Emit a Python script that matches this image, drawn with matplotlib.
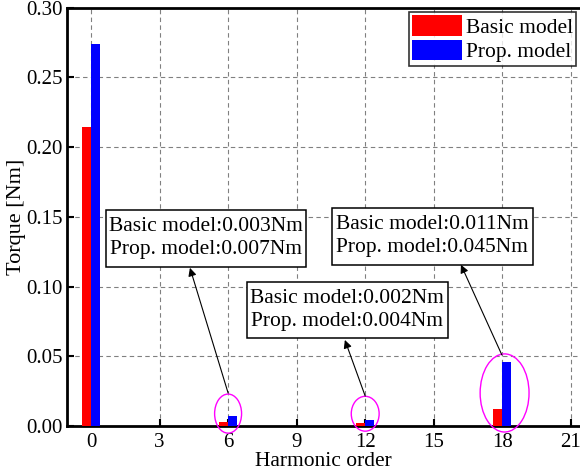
import matplotlib
matplotlib.use("Agg")
import matplotlib.pyplot as plt
from matplotlib.patches import Ellipse, Rectangle

plt.rcParams['font.family'] = ['Liberation Serif', 'DejaVu Serif']

# harmonic orders and torque amplitudes [Nm]
orders = [0, 6, 12, 18]
basic = [0.2145, 0.003, 0.002, 0.012]
prop = [0.274, 0.007, 0.004, 0.046]

notes = [
    "Basic model:0.003Nm\nProp. model:0.007Nm",
    "Basic model:0.002Nm\nProp. model:0.004Nm",
    "Basic model:0.011Nm\nProp. model:0.045Nm",
]

fig = plt.figure(figsize=(5.8, 4.71), dpi=100)
ax = fig.add_axes([0.1155, 0.0955, 0.8845, 0.8885])

w = 0.4
ax.bar([o - w / 2 for o in orders], basic, width=w, color='red', label='Basic model', zorder=3)
ax.bar([o + w / 2 for o in orders], prop, width=w, color='blue', label='Prop. model', zorder=3)

ax.set_xlim(-1.05, 21.4)
ax.set_ylim(0, 0.30)
ax.set_xticks(range(0, 22, 3))
ax.set_yticks([0, 0.05, 0.10, 0.15, 0.20, 0.25, 0.30])
ax.set_yticklabels(['0.00', '0.05', '0.10', '0.15', '0.20', '0.25', '0.30'])
ax.grid(True, linestyle=(0, (4, 3)), color='gray', linewidth=0.8, zorder=0)
ax.tick_params(direction='in', length=5, width=1.5, labelsize=15)
ax.tick_params(axis='x', pad=5)
ax.tick_params(axis='y', pad=3)
for s in ['left', 'bottom', 'top']:
    ax.spines[s].set_linewidth(2)
ax.spines['right'].set_visible(False)

ax.set_xlabel('Harmonic order', fontsize=15.5, labelpad=0)
ax.set_ylabel('Torque [Nm]', fontsize=16, labelpad=0)

# magenta ellipses around the small harmonics
ells = [(6, 0.0089, 1.18, 0.028), (12, 0.0088, 1.22, 0.025), (18.1, 0.0237, 2.14, 0.056)]
for cx, cy, ew, eh in ells:
    ax.add_patch(Ellipse((cx, cy), ew, eh, fill=False, edgecolor='magenta',
                         linewidth=1, clip_on=False, zorder=4))

# annotation boxes (x0, x1, y0, y1) with arrows pointing to them
boxes = [(0.656, 9.405, 0.1141, 0.1551), (6.82, 15.62, 0.0632, 0.1034),
         (10.54, 19.34, 0.1156, 0.1565)]
tails = [(6, 0.0237), (12, 0.0215), (17.98, 0.051)]
heads = [(4.33, 0.1134), (11.11, 0.0617), (16.19, 0.1156)]
for txt, (x0, x1, y0, y1) in zip(notes, boxes):
    ax.add_patch(Rectangle((x0, y0), x1 - x0, y1 - y0, facecolor='white',
                           edgecolor='black', linewidth=1.1, zorder=6))
    ax.text((x0 + x1) / 2, (y0 + y1) / 2, txt, fontsize=15.5, ha='center',
            va='center', linespacing=1.3, zorder=7)
for (tx, ty), (hx, hy) in zip(tails, heads):
    ax.annotate('', xy=(hx, hy), xytext=(tx, ty),
                arrowprops=dict(arrowstyle='-|>', color='black', lw=0.8,
                                mutation_scale=12, shrinkA=0, shrinkB=0), zorder=5)

leg = ax.legend(loc='upper right', fontsize=15.5, frameon=True, fancybox=False,
                borderpad=0.15, handlelength=2.3, handleheight=1.1, handletextpad=0.2,
                labelspacing=0.1, borderaxespad=0.0, bbox_to_anchor=(0.993, 0.99))
leg.get_frame().set_edgecolor('black')
leg.get_frame().set_linewidth(1.2)

fig.savefig('out.png', dpi=100)
